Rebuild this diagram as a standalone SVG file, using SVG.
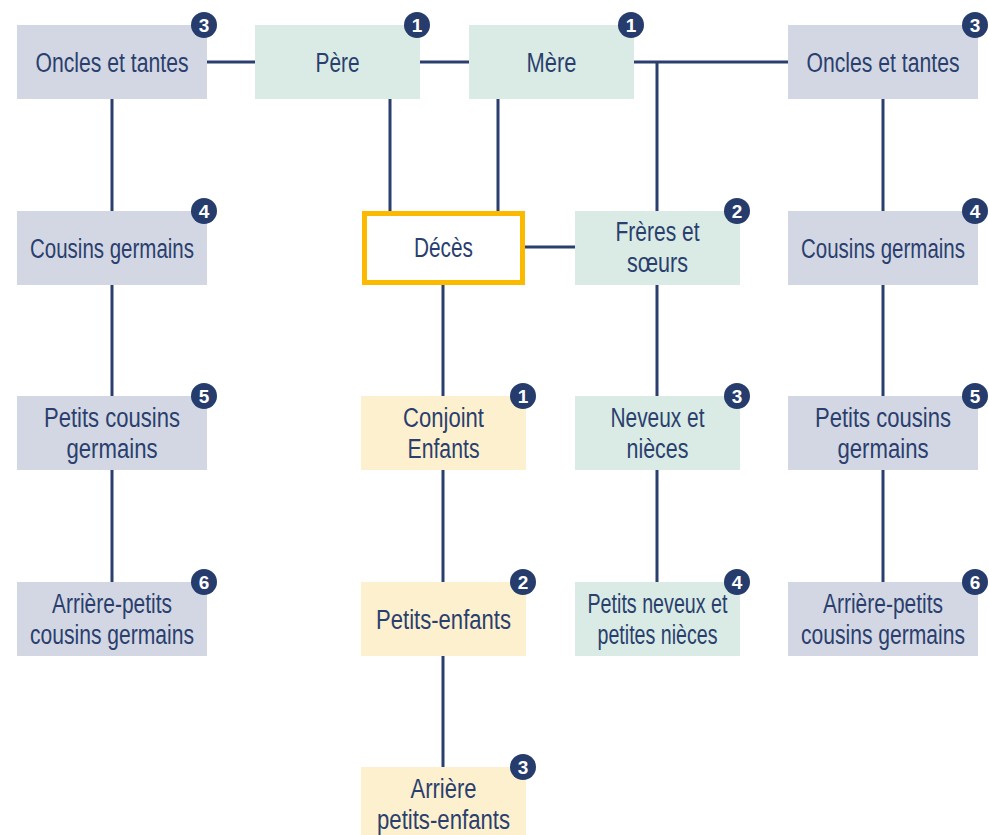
<svg xmlns="http://www.w3.org/2000/svg" width="989" height="835" viewBox="0 0 989 835">
<style>
.g{fill:#D3D7E3}
.v{fill:#D9EBE4}
.y{fill:#FDF0CE}
.t{font-family:"Liberation Sans",Arial,sans-serif;font-size:27px;fill:#2A3F6E;text-anchor:middle}
.bc{fill:#263C6C}
.bn{font-family:"Liberation Sans",Arial,sans-serif;font-size:19px;font-weight:bold;fill:#fff;text-anchor:middle}
.ln{stroke:#2A3F6E;stroke-width:3;fill:none}
</style>
<rect width="989" height="835" fill="#fff"/>
<g id="connectors" class="ln">
<path d="M207 62H255M420 62H469M634 62H788M657 62V211M390 99V211M498 99V211"/>
<path d="M112 99V211M112 285V396M112 470V582"/>
<path d="M883 99V211M883 285V396M883 470V582"/>
<path d="M443 285V396M443 470V582M443 656V767"/>
<path d="M657 285V396M657 470V582M525 247H575"/>
</g>
<g id="oncles-l"><rect class="g" x="17" y="25" width="190" height="74"/><text class="t" x="112" y="72" textLength="153" lengthAdjust="spacingAndGlyphs">Oncles et tantes</text><circle class="bc" cx="204" cy="25" r="13"/><text class="bn" x="204" y="32">3</text></g>
<g id="pere"><rect class="v" x="255" y="25" width="165" height="74"/><text class="t" x="337.5" y="72" textLength="44" lengthAdjust="spacingAndGlyphs">Père</text><circle class="bc" cx="417" cy="25" r="13"/><text class="bn" x="417" y="32">1</text></g>
<g id="mere"><rect class="v" x="469" y="25" width="165" height="74"/><text class="t" x="551.5" y="72" textLength="50" lengthAdjust="spacingAndGlyphs">Mère</text><circle class="bc" cx="631" cy="25" r="13"/><text class="bn" x="631" y="32">1</text></g>
<g id="oncles-r"><rect class="g" x="788" y="25" width="190" height="74"/><text class="t" x="883" y="72" textLength="153" lengthAdjust="spacingAndGlyphs">Oncles et tantes</text><circle class="bc" cx="975" cy="25" r="13"/><text class="bn" x="975" y="32">3</text></g>

<g id="cousins-l"><rect class="g" x="17" y="211" width="190" height="74"/><text class="t" x="112" y="258" textLength="164" lengthAdjust="spacingAndGlyphs">Cousins germains</text><circle class="bc" cx="204" cy="211" r="13"/><text class="bn" x="204" y="218">4</text></g>
<g id="deces"><rect x="364.5" y="213.5" width="158" height="69" fill="#fff" stroke="#FBB900" stroke-width="5"/><text class="t" x="443.5" y="257" textLength="59" lengthAdjust="spacingAndGlyphs">Décès</text></g>
<g id="freres"><rect class="v" x="575" y="211" width="165" height="74"/><text class="t" x="657.5" y="241" textLength="84" lengthAdjust="spacingAndGlyphs">Frères et</text><text class="t" x="657.5" y="272" textLength="61" lengthAdjust="spacingAndGlyphs">sœurs</text><circle class="bc" cx="737" cy="211" r="13"/><text class="bn" x="737" y="218">2</text></g>
<g id="cousins-r"><rect class="g" x="788" y="211" width="190" height="74"/><text class="t" x="883" y="258" textLength="164" lengthAdjust="spacingAndGlyphs">Cousins germains</text><circle class="bc" cx="975" cy="211" r="13"/><text class="bn" x="975" y="218">4</text></g>

<g id="petits-cousins-l"><rect class="g" x="17" y="396" width="190" height="74"/><text class="t" x="112" y="427" textLength="136" lengthAdjust="spacingAndGlyphs">Petits cousins</text><text class="t" x="112" y="458" textLength="91" lengthAdjust="spacingAndGlyphs">germains</text><circle class="bc" cx="204" cy="396" r="13"/><text class="bn" x="204" y="403">5</text></g>
<g id="conjoint"><rect class="y" x="361" y="396" width="165" height="74"/><text class="t" x="443.5" y="427" textLength="81" lengthAdjust="spacingAndGlyphs">Conjoint</text><text class="t" x="443.5" y="458" textLength="72" lengthAdjust="spacingAndGlyphs">Enfants</text><circle class="bc" cx="523" cy="396" r="13"/><text class="bn" x="523" y="403">1</text></g>
<g id="neveux"><rect class="v" x="575" y="396" width="165" height="74"/><text class="t" x="657.5" y="427" textLength="94" lengthAdjust="spacingAndGlyphs">Neveux et</text><text class="t" x="657.5" y="458" textLength="62" lengthAdjust="spacingAndGlyphs">nièces</text><circle class="bc" cx="737" cy="396" r="13"/><text class="bn" x="737" y="403">3</text></g>
<g id="petits-cousins-r"><rect class="g" x="788" y="396" width="190" height="74"/><text class="t" x="883" y="427" textLength="136" lengthAdjust="spacingAndGlyphs">Petits cousins</text><text class="t" x="883" y="458" textLength="91" lengthAdjust="spacingAndGlyphs">germains</text><circle class="bc" cx="975" cy="396" r="13"/><text class="bn" x="975" y="403">5</text></g>

<g id="arriere-cousins-l"><rect class="g" x="17" y="582" width="190" height="74"/><text class="t" x="112" y="613" textLength="120" lengthAdjust="spacingAndGlyphs">Arrière-petits</text><text class="t" x="112" y="644" textLength="164" lengthAdjust="spacingAndGlyphs">cousins germains</text><circle class="bc" cx="204" cy="582" r="13"/><text class="bn" x="204" y="589">6</text></g>
<g id="petits-enfants"><rect class="y" x="361" y="582" width="165" height="74"/><text class="t" x="443.5" y="629" textLength="135" lengthAdjust="spacingAndGlyphs">Petits-enfants</text><circle class="bc" cx="523" cy="582" r="13"/><text class="bn" x="523" y="589">2</text></g>
<g id="petits-neveux"><rect class="v" x="575" y="582" width="165" height="74"/><text class="t" x="657.5" y="613" textLength="140" lengthAdjust="spacingAndGlyphs">Petits neveux et</text><text class="t" x="657.5" y="644" textLength="120" lengthAdjust="spacingAndGlyphs">petites nièces</text><circle class="bc" cx="737" cy="582" r="13"/><text class="bn" x="737" y="589">4</text></g>
<g id="arriere-cousins-r"><rect class="g" x="788" y="582" width="190" height="74"/><text class="t" x="883" y="613" textLength="120" lengthAdjust="spacingAndGlyphs">Arrière-petits</text><text class="t" x="883" y="644" textLength="164" lengthAdjust="spacingAndGlyphs">cousins germains</text><circle class="bc" cx="975" cy="582" r="13"/><text class="bn" x="975" y="589">6</text></g>

<g id="arriere-petits-enfants"><rect class="y" x="361" y="767" width="165" height="74"/><text class="t" x="443.5" y="798" textLength="66" lengthAdjust="spacingAndGlyphs">Arrière</text><text class="t" x="443.5" y="829" textLength="133" lengthAdjust="spacingAndGlyphs">petits-enfants</text><circle class="bc" cx="523" cy="767" r="13"/><text class="bn" x="523" y="774">3</text></g>
</svg>
